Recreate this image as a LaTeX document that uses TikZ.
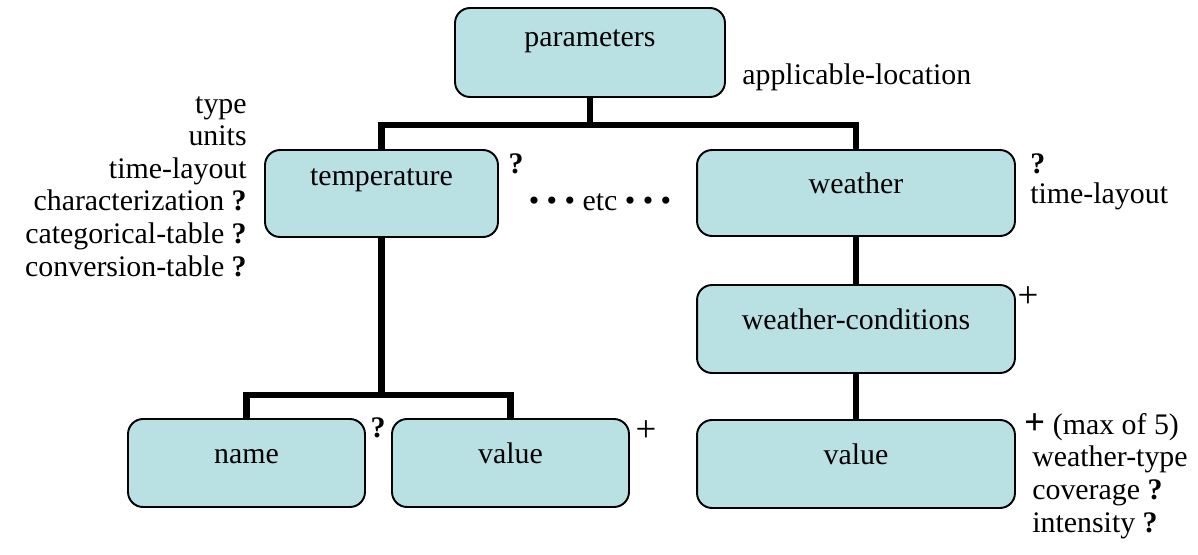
\documentclass[tikz,border=0pt]{standalone}
\usepackage{fontspec}
\setmainfont{Liberation Serif}
\definecolor{boxfill}{RGB}{185,224,227}

\begin{document}
\begin{tikzpicture}[x=0.02cm, y=-0.02cm]
	\tikzset{box/.style={draw=black, fill=boxfill, rounded corners=0.3cm, line width=1.1pt,
			font=\fontsize{17}{19}\selectfont, text height=0.2cm, text depth=0.2cm, inner sep=0pt},
		tree/.style={line width=3.6pt},
		lbl/.style={font=\fontsize{17}{19}\selectfont, inner sep=0pt},
		plus/.style={font=\fontsize{21}{23}\selectfont, inner sep=0pt}};

	\useasboundingbox (0,0) rectangle (1198,555);

	\node[box, minimum width=5.4cm, minimum height=1.78cm, text depth=0.46cm] (params) at (590,52.5) {parameters};
	\node[box, minimum width=4.66cm, minimum height=1.74cm, text depth=0.54cm] (temperature) at (381.5,193.5) {temperature};
	\node[box, minimum width=6.36cm, minimum height=1.72cm] (weather) at (856,193) {weather};
	\node[box, minimum width=6.36cm, minimum height=1.76cm] (wcond) at (856,329) {weather-conditions};
	\node[box, minimum width=4.74cm, minimum height=1.76cm] (name) at (246.5,463) {name};
	\node[box, minimum width=4.74cm, minimum height=1.76cm] (tvalue) at (510.5,463) {value};
	\node[box, minimum width=6.36cm, minimum height=1.76cm] (wvalue) at (856,464) {value};

	\coordinate (jtop) at (590,125);
	\coordinate (jlow) at (381.5,395);

	\draw[tree] (params) -- (jtop);
	\draw[tree] (temperature.north) |- (jtop) -| (weather.north);
	\draw[tree] (temperature) -- (jlow);
	\draw[tree] (name.north) |- (jlow) -| (tvalue.north);
	\draw[tree] (weather) -- (wcond);
	\draw[tree] (wcond) -- (wvalue);

	% attributes
	\node[lbl, anchor=base west] (paramsloc) at (742,84) {applicable-location};
	\node[lbl, anchor=base east] (ttype) at (247,113) {type};
	\node[lbl, anchor=base east] (tunits) at (247,145.6) {units};
	\node[lbl, anchor=base east] (tlayout) at (247,178.2) {time-layout};
	\node[lbl, anchor=base east] (tchar) at (247,210.8) {characterization \textbf{?}};
	\node[lbl, anchor=base east] (tcat) at (247,243.4) {categorical-table \textbf{?}};
	\node[lbl, anchor=base east] (tconv) at (247,276) {conversion-table \textbf{?}};
	\node[lbl, anchor=base] (topt) at (516,173) {\textbf{?}};
	\node[lbl, anchor=base] (etc) at (600,210) {\textbullet\ \textbullet\ \textbullet\ etc \textbullet\ \textbullet\ \textbullet};
	\node[lbl, anchor=base west] (wopt) at (1030,173) {\textbf{?}};
	\node[lbl, anchor=base west] (wlayout) at (1030,203) {time-layout};
	\node[plus, anchor=base] (wcplus) at (1028,307) {+};
	\node[lbl, anchor=base] (nameopt) at (378,437) {\textbf{?}};
	\node[plus, anchor=base] (tvplus) at (646,441) {+};
	\node[lbl, anchor=base west] (wvmax) at (1024,434) {{\fontsize{21}{23}\selectfont\textbf{+}} (max of 5)};
	\node[lbl, anchor=base west] (wvtype) at (1032,466) {weather-type};
	\node[lbl, anchor=base west] (wvcov) at (1032,499) {coverage \textbf{?}};
	\node[lbl, anchor=base west] (wvint) at (1032,532) {intensity \textbf{?}};
\end{tikzpicture}
\end{document}
